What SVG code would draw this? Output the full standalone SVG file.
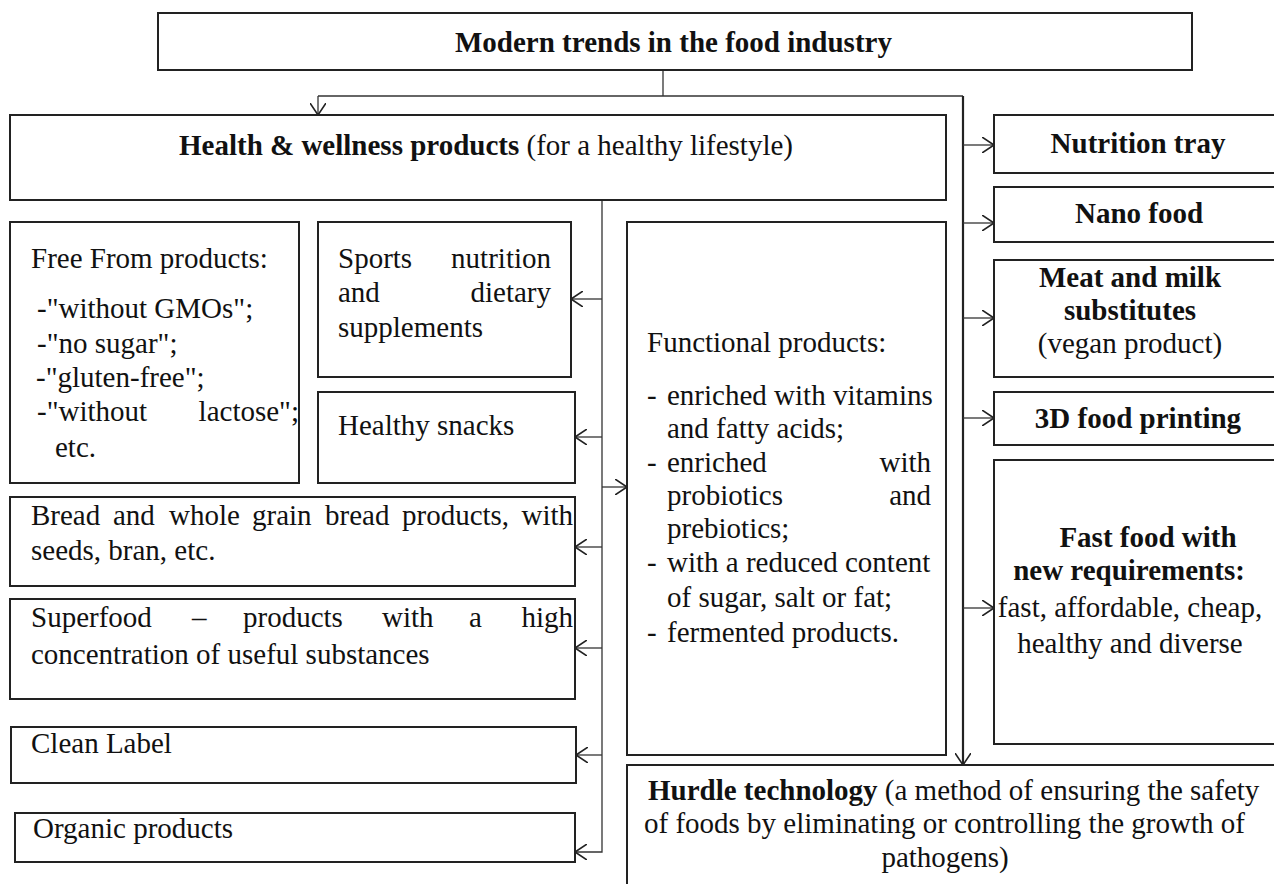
<svg xmlns="http://www.w3.org/2000/svg" width="1274" height="884" viewBox="0 0 1274 884">
<defs>
<style>
.box{fill:#fff;stroke:#222;stroke-width:2}
.t{font-family:"Liberation Serif","Times New Roman",serif;font-size:29px;fill:#111}
.b{font-weight:bold}
.c{text-anchor:middle}
.e{text-anchor:end}
.ln{fill:none;stroke:#333;stroke-width:1.3}
.thick{fill:none;stroke:#222;stroke-width:2.2}
</style>
<marker id="ah" viewBox="0 0 12 16" refX="12" refY="8" markerWidth="12" markerHeight="16" markerUnits="userSpaceOnUse" orient="auto">
<path d="M0,0 L12,8 L0,16" fill="none" stroke="#222" stroke-width="1.6"/>
</marker>
</defs>
<rect width="1274" height="884" fill="#fff"/>

<g id="connectors">
<path class="ln" d="M663,70 V96"/>
<path class="ln" d="M318,96 H963"/>
<path class="ln" d="M318,96 V115" marker-end="url(#ah)"/>
<path class="thick" d="M963,96 V765" marker-end="url(#ah)"/>
<path class="ln" d="M963,145 H994" marker-end="url(#ah)"/>
<path class="ln" d="M963,223 H994" marker-end="url(#ah)"/>
<path class="ln" d="M963,318 H994" marker-end="url(#ah)"/>
<path class="ln" d="M963,418 H994" marker-end="url(#ah)"/>
<path class="ln" d="M963,608 H994" marker-end="url(#ah)"/>
<path class="ln" d="M602,200 V852 H575" marker-end="url(#ah)"/>
<path class="ln" d="M602,299 H571" marker-end="url(#ah)"/>
<path class="ln" d="M602,437 H575" marker-end="url(#ah)"/>
<path class="ln" d="M602,547 H575" marker-end="url(#ah)"/>
<path class="ln" d="M602,648 H575" marker-end="url(#ah)"/>
<path class="ln" d="M602,755 H576" marker-end="url(#ah)"/>
<path class="ln" d="M602,487 H627" marker-end="url(#ah)"/>
</g>

<g id="modern-trends">
<rect class="box" x="158" y="13" width="1034" height="57"/>
<text class="t b" x="455" y="52">Modern trends in the food industry</text>
</g>

<g id="health-wellness">
<rect class="box" x="10" y="115" width="936" height="85"/>
<text class="t" x="179" y="155"><tspan class="b">Health &amp; wellness products</tspan> (for a healthy lifestyle)</text>
</g>

<g id="free-from">
<rect class="box" x="10" y="222" width="289" height="261"/>
<text class="t" x="31" y="268">Free From products:</text>
<text class="t" x="37" y="318">-"without GMOs";</text>
<text class="t" x="37" y="353">-"no sugar";</text>
<text class="t" x="36" y="387">-"gluten-free";</text>
<text class="t" x="37" y="421">-"without</text>
<text class="t e" x="299" y="421">lactose";</text>
<text class="t" x="55" y="457">etc.</text>
</g>

<g id="sports">
<rect class="box" x="318" y="222" width="253" height="155"/>
<text class="t" x="338" y="268">Sports</text>
<text class="t e" x="551" y="268">nutrition</text>
<text class="t" x="338" y="302">and</text>
<text class="t e" x="551" y="302">dietary</text>
<text class="t" x="338" y="337">supplements</text>
</g>

<g id="snacks">
<rect class="box" x="318" y="392" width="257" height="91"/>
<text class="t" x="338" y="435">Healthy snacks</text>
</g>

<g id="bread">
<rect class="box" x="10" y="497" width="565" height="89"/>
<text class="t" y="525"><tspan x="31">Bread</tspan><tspan x="113">and</tspan><tspan x="169">whole</tspan><tspan x="252">grain</tspan><tspan x="325">bread</tspan><tspan x="402">products,</tspan></text>
<text class="t e" x="573" y="525">with</text>
<text class="t" x="31" y="560">seeds, bran, etc.</text>
</g>

<g id="superfood">
<rect class="box" x="10" y="599" width="565" height="100"/>
<text class="t" y="627"><tspan x="31">Superfood</tspan><tspan x="192">–</tspan><tspan x="243">products</tspan><tspan x="382">with</tspan><tspan x="469">a</tspan></text>
<text class="t e" x="573" y="627">high</text>
<text class="t" x="31" y="664">concentration of useful substances</text>
</g>

<g id="clean-label">
<rect class="box" x="11" y="727" width="565" height="56"/>
<text class="t" x="31" y="753">Clean Label</text>
</g>

<g id="organic">
<rect class="box" x="15" y="813" width="560" height="49"/>
<text class="t" x="33" y="838">Organic products</text>
</g>

<g id="functional">
<rect class="box" x="627" y="222" width="319" height="533"/>
<text class="t" x="647" y="352">Functional products:</text>
<text class="t" x="647" y="405">-</text><text class="t" x="667" y="405">enriched with vitamins</text>
<text class="t" x="667" y="438">and fatty acids;</text>
<text class="t" x="647" y="472">-</text><text class="t" x="667" y="472">enriched</text><text class="t e" x="931" y="472">with</text>
<text class="t" x="667" y="505">probiotics</text><text class="t e" x="931" y="505">and</text>
<text class="t" x="667" y="538">prebiotics;</text>
<text class="t" x="647" y="572">-</text><text class="t" x="667" y="572">with a reduced content</text>
<text class="t" x="667" y="607">of sugar, salt or fat;</text>
<text class="t" x="647" y="642">-</text><text class="t" x="667" y="642">fermented products.</text>
</g>

<g id="nutrition-tray">
<rect class="box" x="994" y="115" width="290" height="58"/>
<text class="t b c" x="1138" y="153">Nutrition tray</text>
</g>

<g id="nano-food">
<rect class="box" x="994" y="187" width="290" height="55"/>
<text class="t b c" x="1139" y="223">Nano food</text>
</g>

<g id="meat-milk">
<rect class="box" x="994" y="260" width="290" height="117"/>
<text class="t b c" x="1130" y="287">Meat and milk</text>
<text class="t b c" x="1130" y="320">substitutes</text>
<text class="t c" x="1130" y="353">(vegan product)</text>
</g>

<g id="food-printing">
<rect class="box" x="994" y="392" width="290" height="53"/>
<text class="t b c" x="1138" y="428">3D food printing</text>
</g>

<g id="fast-food">
<rect class="box" x="994" y="460" width="290" height="284"/>
<text class="t b c" x="1148" y="547">Fast food with</text>
<text class="t b c" x="1129" y="580">new requirements:</text>
<text class="t c" x="1130" y="617">fast, affordable, cheap,</text>
<text class="t c" x="1130" y="653">healthy and diverse</text>
</g>

<g id="hurdle">
<rect class="box" x="627" y="765" width="660" height="130"/>
<text class="t" x="648" y="800"><tspan class="b">Hurdle technology</tspan> (a method of ensuring the safety</text>
<text class="t" x="644" y="833">of foods by eliminating or controlling the growth of</text>
<text class="t c" x="945" y="867">pathogens)</text>
</g>
</svg>
